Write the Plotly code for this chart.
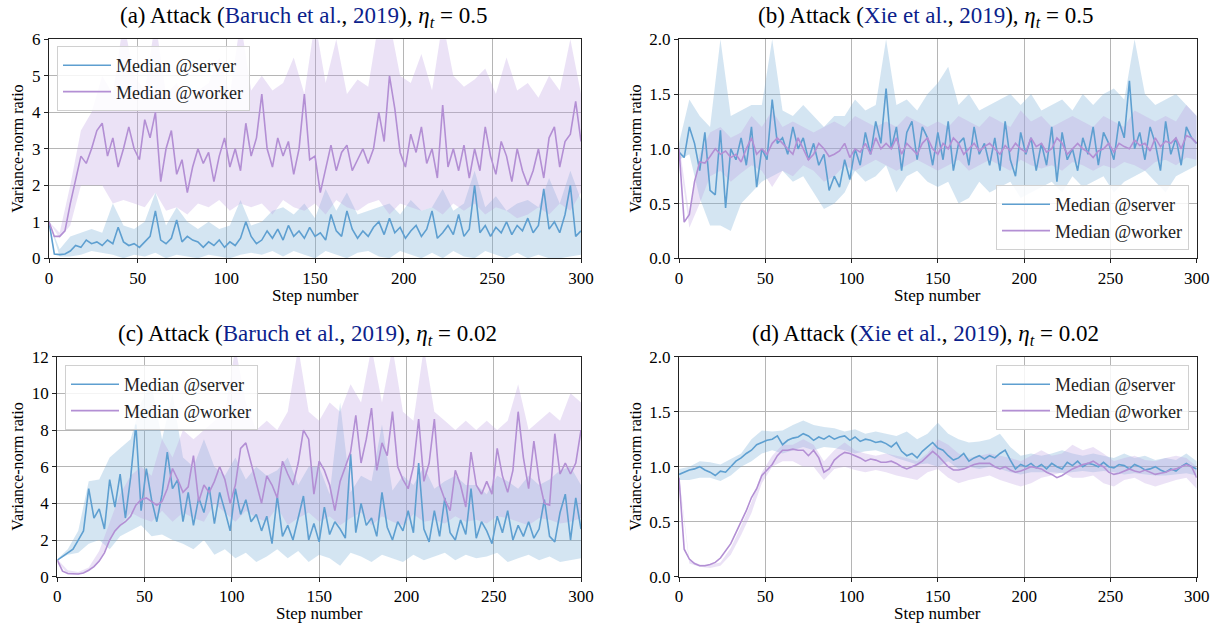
import plotly.graph_objects as go

# x positions of medians (every 3 steps) and of the spread bands (every 6 steps)
STEPS = list(range(0, 301, 3))
BAND_STEPS = list(range(0, 301, 6))

# ---- (a) Baruch, eta=0.5 ----
a_server = [1.0, 0.12, 0.1, 0.12, 0.2, 0.35, 0.3, 0.5, 0.4, 0.45,
            0.35, 0.5, 0.4, 0.85, 0.45, 0.35, 0.4, 0.3, 0.45, 0.6,
            1.3, 0.5, 0.4, 0.55, 1.05, 0.45, 0.6, 0.5, 0.45, 0.3,
            0.45, 0.35, 0.5, 0.3, 0.45, 0.35, 0.55, 1.0, 0.6, 0.4,
            0.5, 0.75, 0.55, 0.8, 0.5, 0.9, 0.6, 0.75, 0.55, 0.85,
            0.6, 0.7, 0.5, 1.2, 0.75, 0.6, 1.3, 0.8, 0.55, 0.75,
            0.6, 0.85, 1.0, 0.65, 1.1, 0.7, 0.85, 0.55, 0.75, 0.9,
            0.6, 0.8, 1.3, 0.55, 0.7, 0.9, 0.65, 1.2, 0.6, 0.8,
            2.0, 0.7, 0.9, 0.6, 0.85, 0.7, 1.0, 0.65, 0.9, 0.75,
            1.1, 0.7, 0.9, 1.9, 0.8, 1.0, 0.7, 1.2, 2.0, 0.6,
            0.75]
a_server_lo = [1.0, 0.05, 0.05, 0.1, 0.2, 0.15, 0.1, 0.0, 0.1, 0.05,
               0.15, 0.0, 0.1, 0.05, 0.0, 0.1, 0.05, 0.0, 0.1, 0.15,
               0.1, 0.2, 0.05, 0.2, 0.1, 0.0, 0.2, 0.1, 0.0, 0.15,
               0.2, 0.05, 0.0, 0.2, 0.1, 0.0, 0.15, 0.0, 0.2, 0.05,
               0.0, 0.2, 0.1, 0.0, 0.15, 0.0, 0.1, 0.0, 0.0, 0.05,
               0.1]
a_server_hi = [1.0, 0.25, 0.6, 0.7, 0.8, 0.7, 1.5, 0.9, 0.8, 1.0,
               1.8, 0.9, 1.4, 1.0, 0.8, 1.0, 0.8, 0.9, 1.6, 0.9,
               1.0, 1.3, 1.4, 1.2, 1.5, 1.1, 1.9, 1.3, 1.8, 1.2,
               1.3, 1.4, 1.5, 1.2, 1.6, 1.3, 1.4, 1.9, 1.3, 1.5,
               2.4, 1.4, 1.7, 1.3, 1.5, 1.6, 1.4, 2.2, 1.5, 2.4,
               1.6]
a_worker = [1.0, 0.6, 0.6, 0.75, 1.5, 2.2, 2.8, 2.6, 3.0, 3.5,
            3.7, 2.8, 3.3, 2.5, 3.0, 3.6, 3.0, 2.7, 3.8, 3.3,
            4.0, 2.1, 3.0, 3.5, 2.3, 2.7, 1.8, 2.5, 3.0, 2.6,
            2.9, 2.1, 2.8, 3.3, 2.5, 3.0, 2.4, 3.7, 2.8, 3.3,
            4.5, 3.0, 2.5, 3.3, 2.8, 3.2, 2.3, 3.0, 4.5, 2.7,
            2.8, 1.8, 2.5, 3.1, 2.4, 2.9, 3.1, 2.4, 2.7, 3.0,
            2.6, 3.0, 4.0, 3.2, 5.0, 4.1, 2.9, 2.5, 3.4, 2.9,
            3.6, 2.6, 3.0, 2.2, 4.2, 2.5, 3.0, 2.4, 3.1, 2.2,
            3.0, 2.4, 3.6, 2.8, 2.3, 3.2, 2.8, 2.1, 3.0, 2.4,
            2.0, 2.4, 3.0, 2.2, 3.3, 3.6, 2.5, 3.2, 3.4, 4.3,
            3.2]
a_worker_lo = [1.0, 0.55, 0.9, 2.0, 2.0, 2.0, 1.5, 1.6, 1.5, 1.4,
               1.8, 1.3, 1.4, 1.2, 1.5, 1.4, 1.6, 1.3, 1.5, 1.4,
               1.5, 1.2, 1.6, 1.4, 1.3, 1.5, 1.2, 1.6, 1.4, 1.3,
               1.5, 1.6, 1.2, 1.5, 1.4, 1.3, 1.4, 1.2, 1.5, 1.3,
               1.5, 1.2, 1.4, 1.3, 1.1, 1.2, 1.4, 1.2, 1.5, 1.3,
               1.8]
a_worker_hi = [1.0, 0.7, 2.0, 3.5, 4.0, 5.0, 4.5, 6.5, 5.0, 4.6,
               6.5, 4.5, 4.8, 4.3, 4.6, 4.8, 5.5, 4.5, 6.5, 4.6,
               5.0, 4.6, 4.8, 5.5, 4.5, 6.5, 4.8, 6.0, 4.5, 4.9,
               4.7, 6.5, 6.5, 5.0, 4.8, 5.6, 4.6, 6.5, 5.0, 4.7,
               4.9, 5.2, 4.5, 5.5, 4.6, 4.8, 4.4, 5.0, 4.6, 6.0,
               4.5]

# ---- (b) Xie, eta=0.5 ----
b_server = [0.97, 0.92, 1.2, 1.05, 0.8, 1.15, 0.62, 0.58, 1.17, 0.46,
            1.0, 0.9, 1.1, 0.85, 1.2, 0.65, 1.0, 0.9, 1.45, 1.05,
            1.1, 0.95, 1.2, 1.0, 1.1, 0.9, 1.05, 0.85, 0.95, 0.62,
            0.75, 0.65, 0.9, 0.72, 1.0, 0.85, 1.15, 0.95, 1.25, 1.05,
            1.55, 1.0, 1.2, 0.8, 1.15, 1.25, 0.9, 1.2, 1.1, 0.85,
            1.15, 0.9, 1.25, 0.8, 1.05, 1.1, 0.85, 1.2, 0.95, 1.05,
            0.85, 1.1, 0.8, 1.25, 0.9, 0.75, 1.15, 0.95, 1.1, 0.8,
            1.05, 0.85, 1.2, 0.7, 1.15, 0.9, 1.0, 0.8, 1.1, 0.95,
            1.2, 0.85, 1.15, 1.05, 0.9, 1.25, 1.1, 1.62, 1.0, 1.15,
            0.9, 1.2, 1.05, 0.8, 1.25, 0.95, 1.1, 0.85, 1.2, 1.1,
            1.05]
b_server_lo = [0.9, 0.95, 0.55, 0.3, 0.3, 0.25, 0.5, 0.6, 0.7, 0.75,
               0.8, 0.7, 0.75, 0.6, 0.45, 0.5, 0.6, 0.8, 0.7, 0.75,
               0.85, 0.6, 0.75, 0.8, 0.7, 0.65, 0.7, 0.5, 0.55, 0.7,
               0.6, 0.65, 0.7, 0.55, 0.6, 0.65, 0.7, 0.6, 0.75, 0.65,
               0.7, 0.75, 0.6, 0.7, 0.75, 0.8, 0.7, 0.6, 0.75, 0.8,
               0.85]
b_server_hi = [1.05, 1.45, 1.3, 1.2, 2.0, 1.3, 1.35, 1.4, 1.4, 2.0,
               1.35, 1.3, 1.4, 1.3, 1.2, 1.3, 1.3, 1.45, 1.35, 1.4,
               2.0, 1.4, 1.45, 1.35, 1.5, 1.6, 1.75, 1.4, 1.5, 1.35,
               1.4, 1.45, 1.5, 1.4, 1.5, 1.35, 1.4, 1.45, 1.35, 1.5,
               1.4, 1.5, 1.55, 1.45, 2.0, 1.5, 1.4, 1.45, 1.5, 1.4,
               1.3]
b_worker = [1.0, 0.33, 0.4, 0.7, 0.88, 0.87, 0.93, 1.0, 0.95, 0.98,
            0.92, 0.95, 0.88, 1.0, 1.1, 0.95, 1.0, 0.95, 1.05, 1.1,
            1.05, 1.0, 0.95, 1.1, 1.0, 0.9, 0.95, 1.05, 1.0, 0.93,
            0.95, 0.98, 1.05, 0.92, 1.0, 0.97, 1.05, 0.95, 1.1, 1.0,
            1.05, 1.0, 1.1, 0.95, 1.05, 1.0, 0.95, 1.05, 1.1, 1.0,
            0.95, 1.05, 1.0, 1.1, 1.05, 0.95, 1.0, 1.05, 0.98, 1.02,
            1.05, 1.0, 0.95, 1.03, 0.98, 1.05, 1.0, 0.97, 1.1, 1.02,
            1.05, 0.97, 1.0, 1.1, 1.05, 0.95, 1.0, 1.05, 1.0, 0.97,
            0.92, 0.98, 1.0, 1.05, 0.97, 1.05, 1.02, 1.0, 1.08, 1.03,
            1.05, 0.98, 1.1, 1.02, 1.07, 1.05, 1.1, 1.0, 1.12, 1.1,
            1.05]
b_worker_lo = [0.95, 0.28, 0.5, 0.75, 0.8, 0.7, 0.78, 0.85, 0.8, 0.65,
               0.8, 0.75, 0.85, 0.8, 0.7, 0.75, 0.85, 0.8, 0.85, 0.9,
               0.85, 0.8, 0.85, 0.9, 0.85, 0.8, 0.85, 0.9, 0.8, 0.85,
               0.9, 0.85, 0.8, 0.9, 0.85, 0.82, 0.85, 0.8, 0.88, 0.85,
               0.8, 0.85, 0.82, 0.88, 0.85, 0.8, 0.88, 0.9, 0.85, 0.92,
               0.9]
b_worker_hi = [1.05, 0.4, 0.95, 1.15, 1.2, 1.1, 1.15, 1.3, 1.2, 1.35,
               1.2, 1.25, 1.2, 1.15, 1.2, 1.25, 1.2, 1.3, 1.25, 1.2,
               1.25, 1.2, 1.3, 1.25, 1.2, 1.25, 1.2, 1.3, 1.25, 1.2,
               1.3, 1.25, 1.2, 1.35, 1.25, 1.3, 1.2, 1.25, 1.3, 1.25,
               1.2, 1.3, 1.25, 1.2, 1.35, 1.3, 1.25, 1.3, 1.25, 1.4,
               1.3]

# ---- (c) Baruch, eta=0.02 ----
c_server = [0.9, 1.1, 1.3, 1.5, 2.0, 2.5, 4.8, 3.2, 3.7, 2.6,
            5.3, 3.8, 5.6, 3.2, 5.4, 8.3, 3.6, 5.9, 4.2, 3.0,
            4.5, 6.8, 4.8, 5.3, 3.0, 4.6, 2.8, 4.3, 3.5, 4.9,
            2.9, 4.6, 3.6, 2.5, 4.8, 3.4, 4.2, 3.0, 3.4, 2.5,
            3.3, 1.8, 4.4, 2.2, 2.8, 2.0, 3.2, 4.4, 2.0, 2.9,
            1.9, 3.8, 2.3, 3.0, 2.6, 2.1, 6.7, 2.4, 4.0, 2.8,
            3.2, 2.2, 4.6, 2.7, 2.0, 3.0, 2.5, 3.6, 2.4, 6.2,
            2.6, 1.9, 3.6, 2.2, 4.3, 2.4, 2.0, 3.1, 2.3, 4.8,
            2.1, 3.0, 2.5, 1.8, 3.3, 2.4, 3.6, 2.0, 2.8, 2.2,
            3.0, 2.1, 2.6, 4.2, 2.2, 1.9, 3.5, 4.5, 2.0, 4.3,
            2.6]
c_server_lo = [0.9, 1.2, 1.3, 1.8, 2.0, 1.5, 2.2, 2.5, 2.8, 2.2,
               2.3, 2.0, 1.8, 1.5, 2.0, 1.2, 1.5, 1.0, 1.3, 0.8,
               1.1, 1.5, 1.0, 1.4, 0.8, 1.2, 1.0, 0.6, 1.3, 1.1,
               0.8, 1.2, 1.0, 0.8, 1.2, 0.9, 1.1, 1.3, 0.9, 1.2,
               1.0, 1.1, 1.3, 0.8, 1.0, 1.2, 0.9, 1.1, 0.8, 0.9,
               1.0]
c_server_hi = [0.95, 1.5, 2.5, 5.2, 5.3, 6.5, 7.0, 7.5, 9.5, 10.5,
               7.5, 10.0, 6.5, 6.0, 7.5, 6.0, 5.5, 6.5, 5.3, 6.0,
               5.5, 5.8, 6.5, 5.0, 6.0, 6.0, 4.5, 9.5, 4.6, 5.5,
               5.2, 8.3, 4.7, 5.5, 5.0, 6.0, 4.8, 5.2, 5.5, 5.0,
               5.0, 4.5, 5.5, 5.2, 4.8, 5.5, 5.0, 5.3, 5.8, 6.0,
               5.0]
c_worker = [0.9, 0.3, 0.17, 0.15, 0.15, 0.2, 0.35, 0.55, 0.85, 1.3,
            2.0, 2.5, 2.8, 3.0, 3.3, 3.9, 4.2, 4.3, 4.1, 3.9,
            4.1, 4.8, 5.9, 5.3, 4.6, 4.9, 6.6, 4.1, 5.0, 4.6,
            5.2, 6.0, 5.3, 4.0, 5.0, 7.0, 7.3, 6.2, 5.0, 4.0,
            5.5, 5.0, 4.3, 6.3, 5.6, 5.0, 6.2, 8.0, 7.5, 4.5,
            6.3, 5.8, 5.0, 3.6, 5.2, 6.0, 6.8, 8.8, 6.2, 7.5,
            9.2, 5.8, 7.3, 6.6, 9.0, 6.0, 5.3, 4.8, 6.0, 8.6,
            5.2, 6.2, 8.6, 5.0, 4.2, 3.6, 5.8, 5.0, 3.8, 6.8,
            5.0, 4.5, 5.2, 4.5, 7.0, 5.5, 4.6, 5.8, 9.0, 6.5,
            4.8, 7.4, 5.3, 4.0, 3.9, 7.8, 5.6, 6.2, 5.6, 6.2,
            8.0]
c_worker_lo = [0.85, 0.12, 0.1, 0.3, 0.8, 2.0, 2.8, 3.5, 3.2, 3.0,
               3.6, 3.0, 3.5, 3.2, 3.0, 4.0, 3.5, 3.0, 3.6, 3.2,
               3.0, 3.8, 2.8, 3.2, 3.5, 3.0, 3.3, 2.8, 3.2, 3.5,
               2.8, 3.3, 3.0, 2.8, 3.4, 3.0, 3.1, 2.9, 3.3, 3.0,
               3.1, 2.9, 3.3, 3.2, 3.0, 2.8, 3.2, 3.1, 2.9, 3.0,
               3.2]
c_worker_hi = [0.95, 0.35, 0.25, 0.5, 1.4, 3.0, 4.5, 5.5, 6.0, 5.5,
               7.5, 6.5, 8.0, 7.5, 8.0, 8.5, 9.0, 12.5, 9.5, 8.0,
               8.5, 8.0, 9.0, 12.5, 9.0, 8.5, 9.5, 9.0, 10.5, 9.5,
               12.5, 9.5, 12.5, 9.0, 8.5, 12.5, 9.0, 8.5, 8.0, 8.5,
               8.0, 8.5, 8.0, 8.5, 10.5, 8.0, 8.5, 9.0, 8.5, 10.0,
               9.5]

# ---- (d) Xie, eta=0.02 ----
d_server = [0.93, 0.95, 0.97, 0.98, 1.0, 0.97, 0.95, 0.92, 0.96, 0.95,
            1.0, 1.05, 1.08, 1.12, 1.15, 1.2, 1.22, 1.24, 1.25, 1.28,
            1.2, 1.24, 1.26, 1.27, 1.3, 1.28, 1.24, 1.27, 1.25, 1.28,
            1.25, 1.27, 1.28, 1.24, 1.27, 1.23, 1.25, 1.24, 1.22, 1.23,
            1.21, 1.18, 1.22, 1.14, 1.1, 1.12, 1.08, 1.14, 1.18, 1.22,
            1.17, 1.15, 1.1, 1.06, 1.08, 1.12, 1.05, 1.08, 1.1, 1.07,
            1.1, 1.08, 1.12, 1.15, 1.06, 0.98, 1.02, 1.0, 1.03, 0.99,
            1.02, 0.98, 1.03, 1.0, 0.98, 1.04, 1.01, 1.05, 1.0, 1.03,
            1.02, 1.0, 1.04, 1.0, 0.99, 1.02, 1.01, 0.98, 1.02, 1.0,
            0.97, 0.98, 1.0, 0.97, 0.95, 0.98, 0.96, 1.0, 1.03, 1.0,
            0.98]
d_server_lo = [0.88, 0.88, 0.9, 0.9, 0.87, 0.92, 1.0, 1.05, 1.12, 1.15,
               1.12, 1.15, 1.18, 1.15, 1.18, 1.17, 1.15, 1.12, 1.14, 1.15,
               1.12, 1.08, 1.05, 1.02, 1.03, 1.0, 1.05, 0.98, 1.0, 0.98,
               1.0, 0.98, 0.95, 0.93, 0.95, 0.95, 0.95, 0.94, 0.95, 0.96,
               0.95, 0.96, 0.95, 0.93, 0.94, 0.93, 0.92, 0.92, 0.93, 0.94,
               0.92]
d_server_hi = [0.98, 1.0, 1.05, 1.04, 1.02, 1.07, 1.12, 1.25, 1.33, 1.32,
               1.33, 1.38, 1.42, 1.38, 1.36, 1.35, 1.32, 1.34, 1.3, 1.32,
               1.3, 1.28, 1.32, 1.25, 1.3, 1.4, 1.3, 1.25, 1.22, 1.23,
               1.25, 1.3, 1.18, 1.1, 1.12, 1.1, 1.12, 1.15, 1.12, 1.1,
               1.12, 1.1, 1.08, 1.12, 1.08, 1.1, 1.06, 1.08, 1.06, 1.12,
               1.05]
d_worker = [0.9, 0.25, 0.16, 0.12, 0.1, 0.1, 0.11, 0.13, 0.17, 0.23,
            0.3, 0.4, 0.5, 0.6, 0.72, 0.8, 0.92, 0.97, 1.02, 1.1,
            1.15, 1.15, 1.16, 1.15, 1.15, 1.1, 1.15, 1.08, 0.95, 0.98,
            1.06, 1.1, 1.13, 1.12, 1.1, 1.08, 1.05, 1.07, 1.06, 1.04,
            1.04, 1.05, 1.03, 1.0, 0.98, 1.0, 1.02, 1.05, 1.1, 1.14,
            1.1, 1.05, 1.0, 0.97, 0.97, 0.98, 1.0, 1.02, 1.03, 1.03,
            1.03, 1.0, 0.98, 1.0, 0.97, 0.95, 0.96, 0.98, 1.0, 0.99,
            0.98, 0.95, 0.93, 0.9, 0.92, 0.95, 0.98, 1.0, 1.02, 1.03,
            1.05, 1.02, 1.0, 0.95, 0.93, 0.94, 0.96, 0.98, 0.96, 0.95,
            0.97, 0.95, 0.93, 0.94, 0.95, 0.97, 0.98, 1.0, 1.02, 1.0,
            0.9]
d_worker_lo = [0.88, 0.12, 0.09, 0.08, 0.1, 0.2, 0.38, 0.58, 0.85, 1.0,
               1.05, 1.05, 1.0, 1.0, 0.88, 0.98, 1.0, 0.97, 0.95, 0.97,
               0.95, 0.92, 0.9, 0.88, 0.95, 0.98, 0.9, 0.85, 0.88, 0.9,
               0.92, 0.88, 0.85, 0.82, 0.85, 0.9, 0.92, 0.95, 0.9, 0.9,
               0.92, 0.85, 0.82, 0.88, 0.9, 0.85, 0.82, 0.85, 0.88, 0.9,
               0.8]
d_worker_hi = [0.92, 0.15, 0.11, 0.11, 0.13, 0.26, 0.46, 0.68, 0.95, 1.1,
               1.2, 1.2, 1.25, 1.2, 1.05, 1.15, 1.22, 1.15, 1.12, 1.1,
               1.12, 1.1, 1.08, 1.05, 1.12, 1.25, 1.2, 1.12, 1.08, 1.1,
               1.12, 1.1, 1.08, 1.05, 1.1, 1.15, 1.1, 1.12, 1.2, 1.15,
               1.18, 1.12, 1.05, 1.08, 1.1, 1.06, 1.05, 1.08, 1.1, 1.08,
               1.0]

W, H = 1218, 628
SERIF = "Liberation Serif"
NAVY = "#0c1f8c"
SERVER_LINE = "#5e9fd0"
SERVER_FILL = "rgba(120,175,215,0.32)"
WORKER_LINE = "#b38fd4"
WORKER_FILL = "rgba(190,160,225,0.3)"


def fx(p):
    return p / W


def fy(p):
    return 1 - p / H


# panel: letter, citation, eta, data, y range/ticks, pixel box, legend placement
panels = [
    dict(tag="a", cite="Baruch et al.", eta="0.5",
         data=(a_server, a_server_lo, a_server_hi, a_worker, a_worker_lo, a_worker_hi),
         yr=[0, 6], dt=1, fmt="d", box=(49, 581, 39.3, 258.3),
         leg=dict(x=fx(57), y=fy(46), xanchor="left", yanchor="top")),
    dict(tag="b", cite="Xie et al.", eta="0.5",
         data=(b_server, b_server_lo, b_server_hi, b_worker, b_worker_lo, b_worker_hi),
         yr=[0, 2], dt=0.5, fmt=".1f", box=(679, 1196.7, 39.3, 258.3),
         leg=dict(x=fx(1189), y=fy(250), xanchor="right", yanchor="bottom")),
    dict(tag="c", cite="Baruch et al.", eta="0.02",
         data=(c_server, c_server_lo, c_server_hi, c_worker, c_worker_lo, c_worker_hi),
         yr=[0, 12], dt=2, fmt="d", box=(57.3, 581, 356.7, 576.7),
         leg=dict(x=fx(65), y=fy(365), xanchor="left", yanchor="top")),
    dict(tag="d", cite="Xie et al.", eta="0.02",
         data=(d_server, d_server_lo, d_server_hi, d_worker, d_worker_lo, d_worker_hi),
         yr=[0, 2], dt=0.5, fmt=".1f", box=(679, 1196.7, 356.7, 576.7),
         leg=dict(x=fx(1189), y=fy(365), xanchor="right", yanchor="top")),
]

fig = go.Figure()
annotations = []
layout = {}

for i, p in enumerate(panels):
    n = "" if i == 0 else str(i + 1)
    xa, ya = "x" + n, "y" + n
    legname = "legend" + n
    srv, srv_lo, srv_hi, wrk, wrk_lo, wrk_hi = p["data"]

    for lo, hi, fill in [(srv_lo, srv_hi, SERVER_FILL), (wrk_lo, wrk_hi, WORKER_FILL)]:
        fig.add_trace(go.Scatter(x=BAND_STEPS, y=lo, mode="lines", line=dict(width=0),
                                 showlegend=False, hoverinfo="skip", xaxis=xa, yaxis=ya))
        fig.add_trace(go.Scatter(x=BAND_STEPS, y=hi, mode="lines", line=dict(width=0),
                                 fill="tonexty", fillcolor=fill, showlegend=False,
                                 hoverinfo="skip", xaxis=xa, yaxis=ya))
    fig.add_trace(go.Scatter(x=STEPS, y=srv, mode="lines", name="Median @server",
                             line=dict(color=SERVER_LINE, width=1.6),
                             xaxis=xa, yaxis=ya, legend=legname))
    fig.add_trace(go.Scatter(x=STEPS, y=wrk, mode="lines", name="Median @worker",
                             line=dict(color=WORKER_LINE, width=1.6),
                             xaxis=xa, yaxis=ya, legend=legname))

    x0, x1, y0, y1 = p["box"]
    axis_common = dict(showgrid=True, gridcolor="#b5b5b5", gridwidth=1,
                       showline=True, linecolor="#222222", linewidth=1.3, mirror=True,
                       ticks="outside", ticklen=4, tickcolor="#222222", automargin=False,
                       zeroline=False, tickfont=dict(family=SERIF, size=17, color="black"))
    layout["xaxis" + n] = dict(domain=[fx(x0), fx(x1)], range=[0, 300], dtick=50, tick0=0,
                               anchor=ya, **axis_common)
    layout["yaxis" + n] = dict(domain=[fy(y1), fy(y0)], range=p["yr"], dtick=p["dt"], tick0=0,
                               tickformat=p["fmt"], anchor=xa, **axis_common)
    layout[legname] = dict(**p["leg"], bgcolor="rgba(255,255,255,0.85)",
                           bordercolor="#d0d0d0", borderwidth=1, traceorder="normal",
                           font=dict(family=SERIF, size=18, color="#222222"),
                           tracegroupgap=0, itemwidth=48)

    cx = (x0 + x1) / 2
    title = (f"({p['tag']}) Attack (<span style='color:{NAVY}'>{p['cite']}</span>, "
             f"<span style='color:{NAVY}'>2019</span>), <i>η<sub>t</sub></i> = {p['eta']}")
    annotations.append(dict(text=title, x=fx(cx - 12), y=fy(y0 - 22), xref="paper", yref="paper",
                            showarrow=False, xanchor="center", yanchor="middle",
                            font=dict(family=SERIF, size=23, color="black")))
    annotations.append(dict(text="Step number", x=fx(cx), y=fy(y1 + 37), xref="paper",
                            yref="paper", showarrow=False, xanchor="center", yanchor="middle",
                            font=dict(family=SERIF, size=17, color="black")))
    annotations.append(dict(text="Variance-norm ratio", x=fx(18 if x0 < 300 else 636),
                            y=fy((y0 + y1) / 2), xref="paper", yref="paper", showarrow=False,
                            textangle=-90, xanchor="center", yanchor="middle",
                            font=dict(family=SERIF, size=16, color="black")))

fig.update_layout(width=W, height=H, margin=dict(l=0, r=0, t=0, b=0),
                  plot_bgcolor="white", paper_bgcolor="white",
                  annotations=annotations, **layout)

# drop the default 8px page margin so the figure fills the window exactly
fig.write_html("out.html", config={"displayModeBar": False},
               post_script="document.body.style.margin = '0px';")
